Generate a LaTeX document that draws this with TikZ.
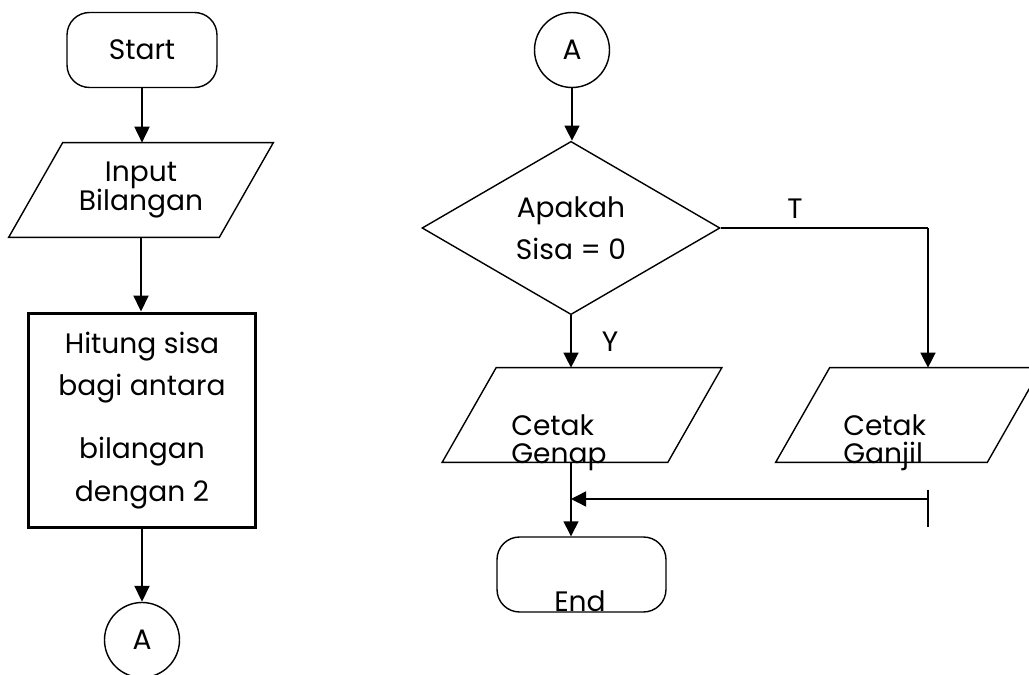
\documentclass[tikz,border=0pt]{standalone}
\usepackage{fontspec}
\setmainfont{Poppins}
\usetikzlibrary{shapes.geometric,arrows.meta}

\tikzset{
  terminal/.style={draw, line width=0.8pt, rounded corners=0.45cm, minimum height=1.5cm, inner sep=0pt},
  iobox/.style={minimum height=1.88cm, inner sep=0pt, align=center,
    append after command={\pgfextra{\draw[line width=0.8pt]
      ([xshift=0.54cm]\tikzlastnode.north west) -- ([xshift=0.54cm]\tikzlastnode.north east) --
      ([xshift=-0.54cm]\tikzlastnode.south east) -- ([xshift=-0.54cm]\tikzlastnode.south west) -- cycle;}}},
  procbox/.style={draw, line width=1.7pt, minimum width=4.54cm, minimum height=4.3cm, align=center,
    font=\fontsize{16}{24}\selectfont},
  connector/.style={draw, circle, line width=0.8pt, minimum size=1.5cm, inner sep=0pt},
  decision/.style={draw, diamond, line width=0.8pt, minimum width=5.96cm, minimum height=3.36cm,
    align=center, inner sep=0pt, font=\fontsize{16}{24}\selectfont},
  flow/.style={line width=1.1pt, -{Triangle[length=0.32cm,width=0.3cm]}},
  thinflow/.style={line width=0.8pt, -{Triangle[length=0.3cm,width=0.3cm]}},
  caption/.style={inner sep=0pt, align=left, font=\fontsize{16}{16}\selectfont},
}

\begin{document}
\begin{tikzpicture}[x=0.02cm, y=-0.02cm, font=\fontsize{16}{17}\selectfont]
  \useasboundingbox (0,0) rectangle (1029,675);

  % left column
  \node[terminal, minimum width=3cm] (start) at (142,50) {Start};
  \node[iobox, minimum width=4.2cm] (input) at (141,190) {Input\\Bilangan};
  \node[procbox] (hitung) at (142,420.5) {Hitung sisa\\bagi antara\\[0.42cm]bilangan\\dengan 2};
  \node[connector] (conA1) at (142,640) {A};

  \draw[flow] (start.south) -- (start.south |- input.north);
  \draw[flow] (input.south) -- (input.south |- hitung.north);
  \draw[flow] (hitung.south) -- (conA1.north);

  % right column
  \node[connector] (conA2) at (572,50) {A};
  \node[decision] (cek) at (571,228) {Apakah\\Sisa = 0};
  \node[iobox, minimum width=4.5cm] (genap) at (582,415) {};
  \node[iobox, minimum width=4.22cm] (ganjil) at (908.5,415) {};
  \node[terminal, minimum width=3.38cm] (end) at (581.5,574.5) {};

  \node[caption, anchor=west] (genapTxt) at (511,443) {Cetak\\Genap};
  \node[caption, anchor=west] (ganjilTxt) at (843,443) {Cetak\\Ganjil};
  \node[inner sep=0pt, anchor=base] (endTxt) at (580,612) {End};
  \node (labT) at (795,209) {T};
  \node (labY) at (610,342) {Y};

  \coordinate (tturn) at (928,228);
  \coordinate (merge) at (928,499);

  \draw[thinflow] (conA2.south) -- (conA2.south |- cek.north);
  \draw[thinflow] (cek.south) -- (cek.south |- genap.north);
  \draw[line width=1.7pt] (cek.east) -- (tturn);
  \draw[thinflow] (tturn) -- (tturn |- ganjil.north);
  \draw[thinflow] (cek.south |- genap.south) -- (cek.south |- end.north);
  \draw[thinflow] (merge) -- (cek.south |- merge);
  \draw[line width=1.7pt] ([yshift=0.18cm]merge) -- ([yshift=-0.56cm]merge);
\end{tikzpicture}
\end{document}
